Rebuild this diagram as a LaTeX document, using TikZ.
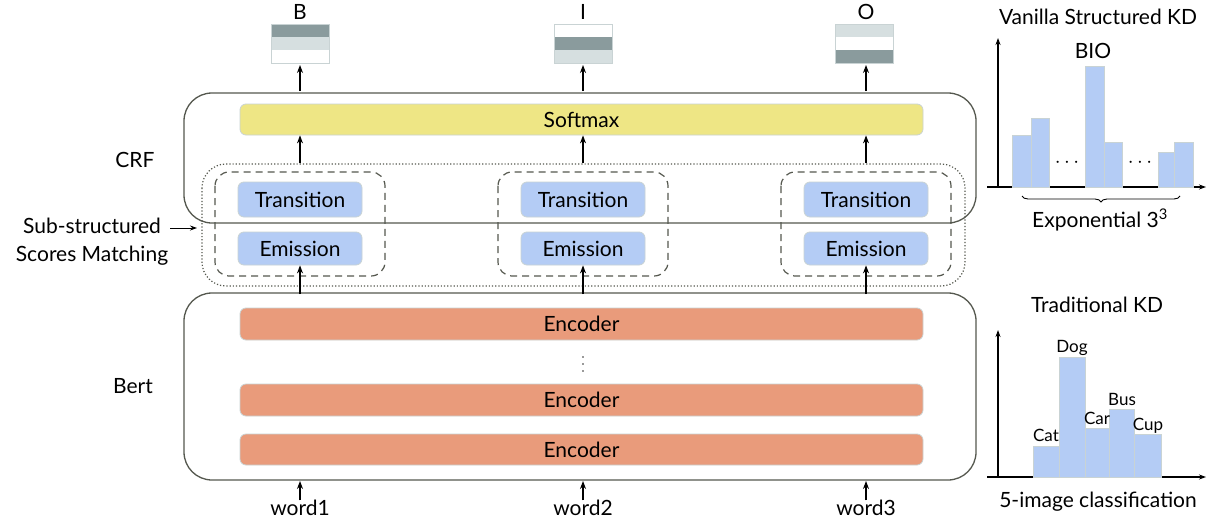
\documentclass[tikz,border=0pt]{standalone}
\usepackage{fontspec}
\setmainfont{Lato}
\usetikzlibrary{arrows.meta,decorations.pathreplacing}
\definecolor{darkstripe}{HTML}{8A9B9D}
\definecolor{lightstripe}{HTML}{D6DFE0}
\definecolor{boxline}{HTML}{C9D3D4}
\definecolor{encfill}{HTML}{E99B7B}
\definecolor{blufill}{HTML}{B4CCF5}
\definecolor{yelfill}{HTML}{EEE685}
\definecolor{frame}{HTML}{55584F}
\begin{document}
\begin{tikzpicture}[x=1pt,y=-1pt,
  txt/.style={font=\fontsize{21}{24}\selectfont, inner sep=0pt},
  smalltxt/.style={font=\fontsize{17}{19}\selectfont, inner sep=0pt},
  bar/.style={draw=boxline, line width=0.8pt, rounded corners=6pt, inner sep=0pt},
  bigframe/.style={draw=frame, line width=1.3pt, rounded corners=28pt},
  dashframe/.style={draw=frame, line width=1.2pt, dash pattern=on 7pt off 5pt, rounded corners=14pt},
  dotframe/.style={draw=frame, line width=1.2pt, dash pattern=on 1.2pt off 2pt, rounded corners=24pt},
  arr/.style={-{Stealth[length=8pt,width=6pt]}, line width=1.1pt, black},
  hbar/.style={draw=boxline, line width=0.8pt, fill=blufill},
  axis/.style={-{Stealth[length=7pt,width=5pt]}, line width=1.1pt, black}]
\useasboundingbox (0,0) rectangle (1214,522);
\fill[white] (0,0) rectangle (1214,522);

% frames
\draw[bigframe] (184,93) rectangle (976,223);
\draw[bigframe] (184,293) rectangle (976,480);
\draw[dotframe] (202,164) rectangle (965,286);

% softmax
\node[bar, fill=yelfill, minimum width=683pt, minimum height=31pt, txt] (soft) at (581.5,119.5) {Softmax};

% encoders
\node[bar, fill=encfill, minimum width=683pt, minimum height=32pt, txt] (enc1) at (581.5,324) {Encoder};
\node[bar, fill=encfill, minimum width=683pt, minimum height=32pt, txt] (enc2) at (581.5,400) {Encoder};
\node[bar, fill=encfill, minimum width=683pt, minimum height=31pt, txt] (enc3) at (581.5,449.5) {Encoder};
\foreach \yy in {357,364,371} \fill[black!80] (583,\yy) circle (0.8pt);

\foreach \i/\cx/\lab/\wrd in {1/300/B/word1, 2/583/I/word2, 3/866/O/word3}{
  \draw[dashframe] (\cx-85,172) rectangle (\cx+85,276);
  \node[bar, fill=blufill, minimum width=124pt, minimum height=35pt, txt] (tr\i) at (\cx,199.5) {Transition};
  \node[bar, fill=blufill, minimum width=124pt, minimum height=33pt, txt] (em\i) at (\cx,248.5) {Emission};
  \node[txt, anchor=base] (w\i) at (\cx,515) {\wrd};
  \coordinate (bb\i) at (\cx,481);
  \coordinate (bt\i) at (\cx,294);
  \coordinate (ds\i) at (\cx,163);
  \coordinate (ct\i) at (\cx,91);
  \coordinate (ob\i) at (\cx,65);
  \draw[arr] ([yshift=-1pt]w\i.north) -- (bb\i);
  \draw[arr] (bt\i) -- (em\i.south);
  \draw[arr] (ds\i) -- (soft.south -| ds\i);
  \draw[arr] (ct\i) -- (ob\i);
  \node[txt, anchor=base] (lab\i) at (\cx,19) {\lab};
}

% output boxes
\def\obox#1#2#3#4{%
  \fill[#2] (#1-29,24) rectangle (#1+29,37);
  \fill[#3] (#1-29,37) rectangle (#1+29,50);
  \fill[#4] (#1-29,50) rectangle (#1+29,63);
  \draw[boxline, line width=0.8pt] (#1-29,24) rectangle (#1+29,63);}
\obox{300}{darkstripe}{lightstripe}{white}
\obox{583}{white}{darkstripe}{lightstripe}
\obox{864}{lightstripe}{white}{darkstripe}

% left labels
\node[txt] (crf) at (135,160) {CRF};
\node[txt, align=center, font=\fontsize{21}{28}\selectfont] (ssm) at (92,242) {Sub-structured\\Scores Matching};
\coordinate (ssmend) at (197,228);
\draw[-{Stealth[length=7pt,width=5pt]}, line width=1pt] (170,228) -- (ssmend);
\node[txt] (bert) at (133,386) {Bert};

% top right chart
\node[txt] (t1) at (1098,17) {Vanilla Structured KD};
\draw[axis] (998,187) -- (998,38);
\draw[axis] (987,187) -- (1206,187);
\draw[hbar] (1012,187) rectangle (1031,135);
\draw[hbar] (1031,187) rectangle (1049,118);
\draw[hbar] (1085,187) rectangle (1104,66);
\draw[hbar] (1104,187) rectangle (1122,142);
\draw[hbar] (1158,187) rectangle (1174,152);
\draw[hbar] (1174,187) rectangle (1193,142);
\node[txt] (bio) at (1093,51) {BIO};
\node[txt] (d1) at (1067,163) {$\cdots$};
\node[txt] (d2) at (1140,163) {$\cdots$};
\draw[decorate, decoration={brace, amplitude=6pt}, line width=0.9pt] (1180,196) -- (1022,196);
\node[txt] (expo) at (1100,220) {Exponential 3\textsuperscript{3}};

% bottom right chart
\node[txt] (t2) at (1097,305) {Traditional KD};
\draw[axis] (998,477) -- (998,330);
\draw[axis] (987,477) -- (1206,477);
\draw[hbar] (1033,477) rectangle (1059,446);
\draw[hbar] (1059,477) rectangle (1085,357);
\draw[hbar] (1085,477) rectangle (1109,428);
\draw[hbar] (1109,477) rectangle (1134,409);
\draw[hbar] (1134,477) rectangle (1161,434);
\node[smalltxt] (cat) at (1046,435) {Cat};
\node[smalltxt] (dog) at (1072,348) {Dog};
\node[smalltxt] (car) at (1097,418) {Car};
\node[smalltxt] (bus) at (1122,399) {Bus};
\node[smalltxt] (cup) at (1148,426) {Cup};
\node[txt] (t3) at (1098,502) {5-image classification};
\end{tikzpicture}
\end{document}
